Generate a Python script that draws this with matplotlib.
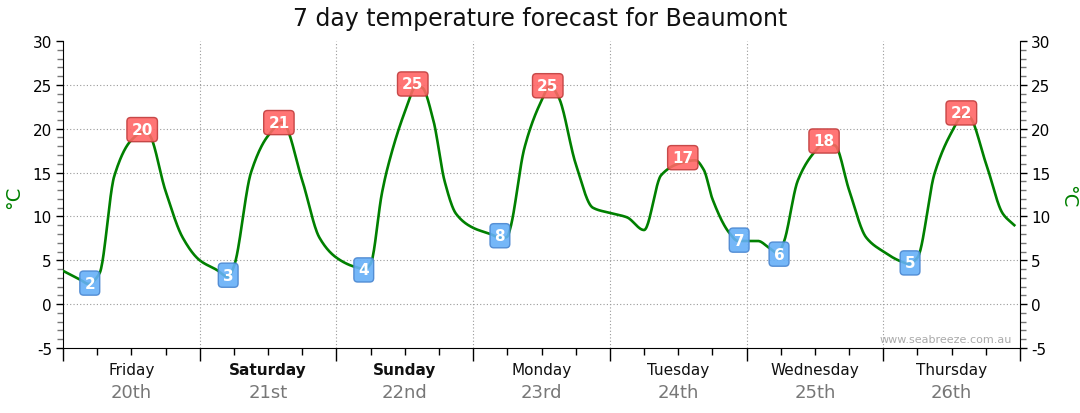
import numpy as np
import matplotlib
matplotlib.use("Agg")
import matplotlib.pyplot as plt
from matplotlib.ticker import MultipleLocator

plt.rcParams["axes.unicode_minus"] = False

# hours since Friday 00:00 and temperature (deg C)
hours = [0, 3, 4.5, 6.4, 9, 12, 14, 15, 18, 21, 24, 27, 29, 30, 33, 36, 38.5, 42, 45, 48,
         51, 53, 54, 56, 57, 60, 62, 63, 65, 67, 69, 72, 75, 77, 78, 78.5, 81, 84, 85.5, 87,
         90, 93, 96, 99, 102, 105, 108, 111, 112.5, 114, 117, 118.5, 120, 122, 124, 125.5,
         126.5, 129, 132, 133.5, 135.5, 138, 141, 144, 147, 148.5, 150, 153, 156, 158, 159,
         162, 165, 167]
temps = [3.8, 2.8, 2.3, 3.5, 14.6, 18.7, 19.6, 19.4, 12.9, 7.6, 5.0, 3.9, 3.1, 4.3, 15.0, 19.2,
         20.7, 14.1, 7.6, 5.3, 4.3, 4.0, 4.6, 12.7, 15.6, 21.9, 24.8, 24.7, 21.0, 14.0, 10.3,
         8.7, 8.0, 7.5, 7.7, 8.6, 17.8, 23.2, 24.9, 23.6, 16.0, 11.0, 10.4, 9.9, 8.45, 14.7,
         16.0, 16.4, 15.3, 12.0, 8.1, 7.2, 7.2, 7.2, 6.4, 5.8, 7.0, 14.1, 17.4, 18.3, 18.1,
         13.0, 7.6, 6.0, 4.9, 4.6, 5.3, 14.9, 19.6, 21.5, 21.4, 16.1, 10.3, 9.0]

# daily min / max labels
label_hours = [4.7, 13.9, 29, 37.9, 52.8, 61.4, 76.7, 85.1, 108.8, 118.7, 125.7, 133.6, 148.7, 157.7]
label_temps = [2.4, 19.9, 3.3, 20.7, 3.9, 25.1, 7.8, 24.9, 16.7, 7.3, 5.7, 18.6, 4.7, 21.8]
label_text = ["2", "20", "3", "21", "4", "25", "8", "25", "17", "7", "6", "18", "5", "22"]
label_kind = ["min", "max", "min", "max", "min", "max", "min", "max", "max", "min", "min", "max", "min", "max"]

day_names = ["Friday", "Saturday", "Sunday", "Monday", "Tuesday", "Wednesday", "Thursday"]
day_dates = ["20th", "21st", "22nd", "23rd", "24th", "25th", "26th"]
weekend = ["Saturday", "Sunday"]


def pchip(x, y, xn):
    x = np.asarray(x, float)
    y = np.asarray(y, float)
    h = np.diff(x)
    d = np.diff(y) / h
    m = np.zeros_like(y)
    m[0] = d[0]
    m[-1] = d[-1]
    for k in range(1, len(x) - 1):
        if d[k - 1] * d[k] > 0:
            w1 = 2 * h[k] + h[k - 1]
            w2 = h[k] + 2 * h[k - 1]
            m[k] = (w1 + w2) / (w1 / d[k - 1] + w2 / d[k])
    i = np.clip(np.searchsorted(x, xn) - 1, 0, len(x) - 2)
    t = (xn - x[i]) / h[i]
    h00 = 2 * t**3 - 3 * t**2 + 1
    h10 = t**3 - 2 * t**2 + t
    h01 = -2 * t**3 + 3 * t**2
    h11 = t**3 - t**2
    return h00 * y[i] + h10 * h[i] * m[i] + h01 * y[i + 1] + h11 * h[i] * m[i + 1]


fig = plt.figure(figsize=(10.8, 4.14), dpi=100)
ax = fig.add_axes([63 / 1080, 1 - 349 / 414, 957 / 1080, 307 / 414])

xs = np.linspace(hours[0], hours[-1], 1500)
ax.plot(xs, pchip(hours, temps, xs), color="#008000", lw=1.9, zorder=3)

for hx, tv, txt, kind in zip(label_hours, label_temps, label_text, label_kind):
    if kind == "max":
        fc, ec = "#ff6666", "#c03c3c"
    else:
        fc, ec = "#66b0f8", "#4a86d0"
    ax.text(hx, tv, txt, ha="center", va="center", color="white",
            fontsize=11, fontweight="bold", zorder=5,
            bbox=dict(boxstyle="round,pad=0.3,rounding_size=0.25", fc=fc, ec=ec, lw=1, alpha=0.9))

ax.set_xlim(0, 168)
ax.set_ylim(-5, 30)

ax.yaxis.set_major_locator(MultipleLocator(5))
ax.yaxis.set_minor_locator(MultipleLocator(1))
ax.xaxis.set_major_locator(MultipleLocator(24))
ax.xaxis.set_minor_locator(MultipleLocator(6))
ax.set_xticklabels([])

for y in range(0, 30, 5):
    ax.axhline(y, color="#999999", lw=0.8, ls=(0, (1, 2)), zorder=1)
for d in range(1, 7):
    ax.axvline(d * 24, color="#999999", lw=0.8, ls=(0, (1, 2)), zorder=1)

ax.spines["top"].set_visible(False)
ax.spines["right"].set_visible(False)
ax.spines["left"].set_color("black")
ax.spines["bottom"].set_color("black")

ax.tick_params(axis="y", which="major", length=5, width=1, colors="black", labelsize=11, pad=3)
ax.tick_params(axis="y", which="minor", length=4, width=1, color="#777777")
ax.tick_params(axis="x", which="major", length=9, width=1, color="black")
ax.tick_params(axis="x", which="minor", length=5, width=1, color="black")

ax2 = ax.twinx()
ax2.set_ylim(-5, 30)
ax2.yaxis.set_major_locator(MultipleLocator(5))
ax2.yaxis.set_minor_locator(MultipleLocator(1))
for s in ["top", "left", "bottom"]:
    ax2.spines[s].set_visible(False)
ax2.spines["right"].set_color("black")
ax2.tick_params(axis="y", which="major", length=5, width=1, colors="black", labelsize=11, pad=3)
ax2.tick_params(axis="y", which="minor", length=4, width=1, color="#777777")

fig.text(14 / 1080, 1 - 197 / 414, "°C", color="#008000", fontsize=14, rotation=90,
         ha="center", va="center")
fig.text(1068 / 1080, 1 - 197 / 414, "°C", color="#008000", fontsize=14, rotation=270,
         ha="center", va="center")

for i, (nm, dt) in enumerate(zip(day_names, day_dates)):
    ax.text(i * 24 + 12, -7.45, nm, ha="center", va="center", fontsize=11,
            fontweight="bold" if nm in weekend else "normal", color="#111111")
    ax.text(i * 24 + 12, -10.05, dt, ha="center", va="center", fontsize=13, color="#777777")

ax.text(166.5, -4.0, "www.seabreeze.com.au", ha="right", va="center", fontsize=8, color="#aaaaaa")

fig.text(0.5, 0.955, "7 day temperature forecast for Beaumont", ha="center", va="center",
         fontsize=17, color="#111111")

fig.savefig("out.png", dpi=100)
